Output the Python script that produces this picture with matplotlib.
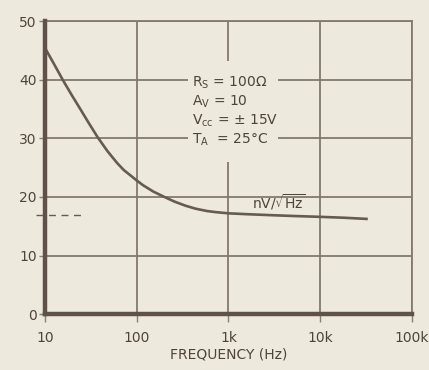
import numpy as np
import matplotlib.pyplot as plt
from matplotlib.patches import Rectangle

# noise voltage vs frequency
freq = [10, 12, 15.7, 19.5, 24, 30, 37.4, 48, 61, 72, 85, 100, 117, 152, 200,
        258, 340, 436, 580, 730, 1000, 1600, 2760, 5000, 10000, 18000, 32000]
noise = [45.4, 43.2, 39.9, 37.4, 35.1, 32.6, 30.2, 27.8, 25.8, 24.6, 23.7,
         22.8, 22.0, 20.9, 20.0, 19.2, 18.5, 18.0, 17.6, 17.4, 17.2, 17.05,
         16.9, 16.75, 16.6, 16.45, 16.25]

dash_freq = [8, 25]
dash_val = [16.9, 16.9]

xticks = [10, 100, 1000, 10000, 100000]
xticklabels = ["10", "100", "1k", "10k", "100k"]
yticks = [0, 10, 20, 30, 40, 50]

conditions = [r"$\mathregular{R_S}$ = 100Ω",
              r"$\mathregular{A_V}$ = 10",
              r"$\mathregular{V_{cc}}$ = ± 15V",
              r"$\mathregular{T_A}$  = 25°C"]

bg = "#ede9dd"
ink = "#665a52"
txt = "#4e443d"
grid_c = "#85786f"

plt.rcParams["font.family"] = ["DejaVu Sans"]
plt.rcParams["mathtext.fontset"] = "dejavusans"

fig = plt.figure(figsize=(4.29, 3.70), dpi=100, facecolor=bg)
ax = fig.add_axes([0.105, 0.151, 0.855, 0.792], facecolor=bg)

ax.set_xscale("log")
ax.set_xlim(10, 100000)
ax.set_ylim(0, 50)

# grid
for x in xticks[1:]:
    ax.axvline(x, color=grid_c, lw=1.3, zorder=1)
for y in yticks[1:]:
    ax.axhline(y, color=grid_c, lw=1.3, zorder=1)

# blank patch behind the condition text
ax.add_patch(Rectangle((0.39, 0.52), 0.245, 0.345, transform=ax.transAxes,
                       facecolor=bg, edgecolor="none", zorder=2))

ax.plot(freq, noise, color=ink, lw=1.9, zorder=4, solid_joinstyle="round")
ax.plot(dash_freq, dash_val, color=ink, lw=1.0, ls=(0, (5, 4)), zorder=3,
        clip_on=False)

ys = [0.79, 0.725, 0.66, 0.595]
for t, yy in zip(conditions, ys):
    ax.text(0.40, yy, t, transform=ax.transAxes, fontsize=10, color=txt,
            va="center", ha="left", zorder=5)

ax.text(0.563, 0.382, r"nV/$\sqrt{\mathregular{Hz}}$", transform=ax.transAxes,
        fontsize=10, color=txt, va="center", ha="left", zorder=5)

for s in ["left", "bottom"]:
    ax.spines[s].set_linewidth(3.2)
    ax.spines[s].set_color("#5e524a")
    ax.spines[s].set_zorder(6)
for s in ["top", "right"]:
    ax.spines[s].set_linewidth(1.3)
    ax.spines[s].set_color(grid_c)

ax.set_xticks(xticks)
ax.set_xticklabels(xticklabels)
ax.xaxis.set_minor_locator(plt.NullLocator())
ax.set_yticks(yticks)
ax.tick_params(axis="both", colors="#8a7e76", labelcolor=txt,
               labelsize=10, width=1.0)
ax.tick_params(axis="x", length=6, pad=6)
ax.tick_params(axis="y", length=4, pad=2)

ax.set_xlabel("FREQUENCY (Hz)", fontsize=10, color=txt, labelpad=2)

fig.savefig("out.png", dpi=100, facecolor=bg)
